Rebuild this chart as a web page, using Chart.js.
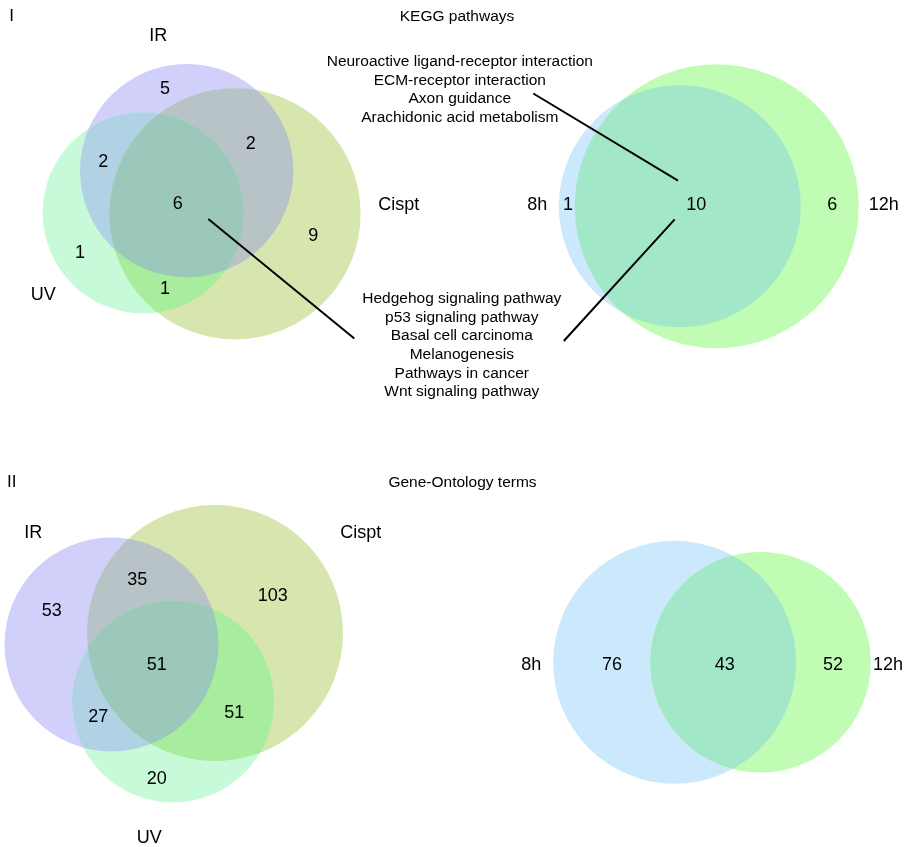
<!DOCTYPE html>
<html>
<head>
<meta charset="utf-8">
<script src="https://cdn.jsdelivr.net/npm/chart.js@4/dist/chart.umd.min.js"></script>
<style>
  html, body { margin: 0; padding: 0; background: #ffffff; }
  canvas { display: block; }
</style>
</head>
<body>
<canvas id="venn" width="908" height="847"></canvas>
<script>
// ---- Data -------------------------------------------------------------
// Three-set regions, ordered: A only, B only, C only, A&B, A&C, B&C, A&B&C
const triSetNames = ['IR', 'UV', 'Cispt'];
const keggTriCounts = [5, 1, 9, 2, 2, 1, 6];
const goTriCounts = [53, 20, 103, 27, 35, 51, 51];

// Two-set regions, ordered: 8h only, shared, 12h only
const pairSetNames = ['8h', '12h'];
const keggPairCounts = [1, 10, 6];
const goPairCounts = [76, 43, 52];

const panelTitles = ['KEGG pathways', 'Gene-Ontology terms'];
const panelNumerals = ['I', 'II'];

// Pathways shared at 8h and 12h
const pathwaysTimeShared = [
  'Neuroactive ligand-receptor interaction',
  'ECM-receptor interaction',
  'Axon guidance',
  'Arachidonic acid metabolism'
];
// Pathways common to all agents and both time points
const pathwaysAllShared = [
  'Hedgehog signaling pathway',
  'p53 signaling pathway',
  'Basal cell carcinoma',
  'Melanogenesis',
  'Pathways in cancer',
  'Wnt signaling pathway'
];

// ---- Layout (in canvas units of the linear scales) ---------------------
const layout = {
  keggTri: {
    circles: [{ x: 186.7, y: 170.7, r: 106.7 }, { x: 143.3, y: 212.8, r: 100.6 }, { x: 235.0, y: 213.8, r: 125.6 }],
    regionPos: [[165, 87.3], [80, 251.7], [313.3, 235], [103.3, 160.7], [250.7, 142.7], [165, 287.3], [177.7, 202.7]],
    namePos: [[158.3, 35], [43.3, 294], [398.7, 203.3]]
  },
  goTri: {
    circles: [{ x: 111.5, y: 644.5, r: 107 }, { x: 173.0, y: 701.5, r: 101 }, { x: 215.0, y: 633.0, r: 128 }],
    regionPos: [[51.7, 610], [156.7, 777.7], [272.7, 594.3], [98.3, 716], [137.3, 578.3], [234.3, 711.7], [156.7, 663.3]],
    namePos: [[33.3, 531.7], [149.3, 836.7], [360.7, 531.7]]
  },
  keggPair: {
    circles: [{ x: 679.8, y: 206.2, r: 121 }, { x: 716.7, y: 206.3, r: 142 }],
    regionPos: [[568, 203.3], [696.3, 203.3], [832.3, 203.3]],
    namePos: [[537.3, 203.3], [883.7, 203.3]]
  },
  goPair: {
    circles: [{ x: 674.7, y: 662.3, r: 121.5 }, { x: 760.5, y: 662.2, r: 110.3 }],
    regionPos: [[612, 663.3], [724.7, 663.3], [833, 663.3]],
    namePos: [[531.3, 663.3], [888, 663.3]]
  },
  titles: [[457, 15], [462.5, 481.7]],
  numerals: [[11.7, 15], [11.7, 480.7]],
  listTop: { x: 459.8, y: 60.3, step: 18.67 },
  listBottom: { x: 461.8, y: 297.7, step: 18.6 },
  connectors: [
    [[533.3, 93.5], [678, 180.7]],
    [[208.3, 219], [354.3, 338.5]],
    [[674.7, 219.3], [563.8, 341]]
  ]
};

// ---- Styles -----------------------------------------------------------
const triColors = {
  a: '#d0d0fa', b: '#c6fad8', c: '#d7e6ae',
  ab: '#b0d2e4', ac: '#b8c3c8', bc: '#a8ec9e', abc: '#9cc8bc'
};
const pairColors = { a: '#cce8fc', b: '#c0fcb4', ab: '#a2e8c8' };
const FONT = '"Liberation Sans", Arial, Helvetica, sans-serif';
const countFont = '18px ' + FONT;
const listFont = '15.5px ' + FONT;

// ---- Datasets: one point per region, labelled with its count -----------
function regionPoints(counts, pos) {
  return counts.map((v, i) => ({ x: pos[i][0], y: pos[i][1], count: v }));
}
const datasets = [
  { label: 'KEGG agents', data: regionPoints(keggTriCounts, layout.keggTri.regionPos) },
  { label: 'KEGG time', data: regionPoints(keggPairCounts, layout.keggPair.regionPos) },
  { label: 'GO agents', data: regionPoints(goTriCounts, layout.goTri.regionPos) },
  { label: 'GO time', data: regionPoints(goPairCounts, layout.goPair.regionPos) }
].map(d => Object.assign(d, { pointRadius: 0, pointHoverRadius: 0, showLine: false }));

// ---- Drawing helpers --------------------------------------------------
function toPx(chart, x, y) {
  return [chart.scales.x.getPixelForValue(x), chart.scales.y.getPixelForValue(y)];
}
function circlePath(chart, c) {
  const [px, py] = toPx(chart, c.x, c.y);
  const rx = Math.abs(chart.scales.x.getPixelForValue(c.x + c.r) - px);
  const ry = Math.abs(chart.scales.y.getPixelForValue(c.y + c.r) - py);
  const p = new Path2D();
  p.ellipse(px, py, rx, ry, 0, 0, Math.PI * 2);
  return p;
}
function fillClipped(ctx, clips, shape, color) {
  ctx.save();
  clips.forEach(cp => ctx.clip(cp));
  ctx.fillStyle = color;
  ctx.fill(shape);
  ctx.restore();
}
function drawTri(chart, ctx, circles) {
  const [A, B, C] = circles.map(c => circlePath(chart, c));
  fillClipped(ctx, [], A, triColors.a);
  fillClipped(ctx, [], B, triColors.b);
  fillClipped(ctx, [], C, triColors.c);
  fillClipped(ctx, [A], B, triColors.ab);
  fillClipped(ctx, [A], C, triColors.ac);
  fillClipped(ctx, [B], C, triColors.bc);
  fillClipped(ctx, [A, B], C, triColors.abc);
}
function drawPair(chart, ctx, circles) {
  const [A, B] = circles.map(c => circlePath(chart, c));
  fillClipped(ctx, [], A, pairColors.a);
  fillClipped(ctx, [], B, pairColors.b);
  fillClipped(ctx, [A], B, pairColors.ab);
}
function text(chart, ctx, str, x, y, font, size) {
  const [px, py] = toPx(chart, x, y);
  ctx.font = font;
  ctx.textAlign = 'center';
  ctx.textBaseline = 'alphabetic';
  ctx.fillStyle = '#000000';
  ctx.fillText(str, px, py + size * 0.358);
}

const vennPlugin = {
  id: 'vennDiagrams',
  beforeDatasetsDraw(chart) {
    const ctx = chart.ctx;
    ctx.save();
    drawTri(chart, ctx, layout.keggTri.circles);
    drawPair(chart, ctx, layout.keggPair.circles);
    drawTri(chart, ctx, layout.goTri.circles);
    drawPair(chart, ctx, layout.goPair.circles);

    // connector lines from pathway lists to regions
    ctx.strokeStyle = '#000000';
    ctx.lineWidth = 2;
    layout.connectors.forEach(([p0, p1]) => {
      const a = toPx(chart, p0[0], p0[1]);
      const b = toPx(chart, p1[0], p1[1]);
      ctx.beginPath();
      ctx.moveTo(a[0], a[1]);
      ctx.lineTo(b[0], b[1]);
      ctx.stroke();
    });
    ctx.restore();
  },
  afterDatasetsDraw(chart) {
    const ctx = chart.ctx;
    ctx.save();
    // region counts at each dataset point
    chart.data.datasets.forEach((ds, di) => {
      const meta = chart.getDatasetMeta(di);
      meta.data.forEach((el, i) => {
        ctx.font = countFont;
        ctx.textAlign = 'center';
        ctx.textBaseline = 'alphabetic';
        ctx.fillStyle = '#000000';
        ctx.fillText(String(ds.data[i].count), el.x, el.y + 18 * 0.358);
      });
    });
    // set names
    triSetNames.forEach((n, i) => {
      text(chart, ctx, n, layout.keggTri.namePos[i][0], layout.keggTri.namePos[i][1], countFont, 18);
      text(chart, ctx, n, layout.goTri.namePos[i][0], layout.goTri.namePos[i][1], countFont, 18);
    });
    pairSetNames.forEach((n, i) => {
      text(chart, ctx, n, layout.keggPair.namePos[i][0], layout.keggPair.namePos[i][1], countFont, 18);
      text(chart, ctx, n, layout.goPair.namePos[i][0], layout.goPair.namePos[i][1], countFont, 18);
    });
    // panel titles and numerals
    panelTitles.forEach((t, i) => text(chart, ctx, t, layout.titles[i][0], layout.titles[i][1], listFont, 15.5));
    panelNumerals.forEach((t, i) => text(chart, ctx, t, layout.numerals[i][0], layout.numerals[i][1], '17px ' + FONT, 17));
    // pathway lists
    pathwaysTimeShared.forEach((t, i) =>
      text(chart, ctx, t, layout.listTop.x, layout.listTop.y + i * layout.listTop.step, listFont, 15.5));
    pathwaysAllShared.forEach((t, i) =>
      text(chart, ctx, t, layout.listBottom.x, layout.listBottom.y + i * layout.listBottom.step, listFont, 15.5));
    ctx.restore();
  }
};

new Chart(document.getElementById('venn'), {
  type: 'scatter',
  data: { datasets },
  options: {
    responsive: false,
    devicePixelRatio: 1,
    animation: false,
    events: [],
    layout: { padding: 0 },
    scales: {
      x: { type: 'linear', min: 0, max: 908, display: false },
      y: { type: 'linear', min: 0, max: 847, reverse: true, display: false }
    },
    plugins: { legend: { display: false }, tooltip: { enabled: false } }
  },
  plugins: [vennPlugin]
});
</script>
</body>
</html>
